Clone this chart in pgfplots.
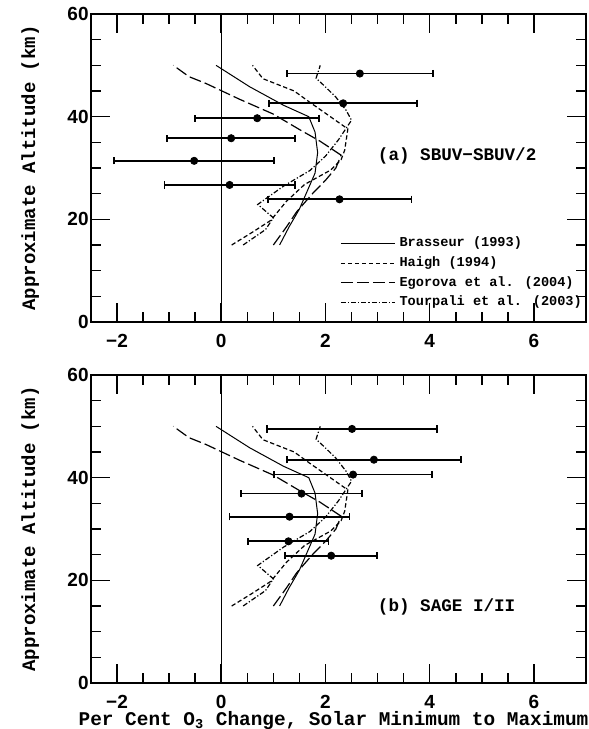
\documentclass[border=0pt]{standalone}
\usepackage{fontspec}
\setmainfont{Liberation Mono}
\newfontfamily\numfont{Liberation Sans}
\usepackage{pgfplots}
\pgfplotsset{compat=1.18}

% model curves (same in both panels)
\pgfplotstableread{
x y
1.12 15
1.30 18.5
1.50 22
1.65 25.5
1.80 29
1.85 33
1.80 37
1.68 40
1.20 42.2
0.55 45.8
-0.10 50
}\brasseur
\pgfplotstableread{
x y
0.20 15
0.60 17.5
0.95 19.8
1.25 23.5
1.60 26.8
2.10 29.6
2.30 31.6
2.37 33.5
2.43 37.6
2.15 39.6
1.70 42.8
1.40 45.0
0.80 47.4
0.60 50
}\haigh
\pgfplotstableread{
x y
1.00 15
1.25 18.5
1.45 21.5
1.75 25
2.00 27.6
2.20 30
2.30 32.5
1.90 35.2
1.50 37.5
1.00 40.5
0.35 43.4
-0.30 46.5
-0.62 47.8
-0.92 50
}\egorova
\pgfplotstableread{
x y
0.42 15
0.85 18.0
1.00 20.3
0.70 22.9
1.20 26.5
1.70 29.5
2.00 32.3
2.25 35.5
2.50 39.3
2.40 41.2
2.20 43.8
2.00 45.8
1.82 47.5
1.90 50
}\tourpali

\pgfplotsset{
  panel/.style={
    scale only axis, width=247.5pt, height=154pt,
    xmin=-2.5, xmax=7, ymin=0, ymax=60,
    xtick={-2,0,2,4,6}, xticklabels={−2,0,2,4,6},
    ytick={0,20,40,60}, minor x tick num=3, minor y tick num=3,
    tick align=inside, major tick length=9.5pt, minor tick length=5pt,
    axis line style={line width=1pt},
    every tick/.style={black, line width=0.8pt},
    /pgf/number format/assume math mode=true,
    tick label style={font=\numfont\bfseries\fontsize{9.5}{10}\selectfont, inner sep=1pt},
    xticklabel style={yshift=-5pt},
    yticklabel style={xshift=0pt},
    label style={font=\bfseries\fontsize{9.5}{11}\selectfont},
    ylabel={Approximate Altitude (km)},
    ylabel style={at={(axis description cs:-0.123,0.5)}, anchor=center},
    legend image code/.code={\draw[#1] (0pt,0pt) -- (27pt,0pt);},
  },
  brass/.style={black, line width=0.5pt},
  haig/.style={black, line width=0.6pt, dash pattern=on 2.2pt off 1.3pt},
  egor/.style={black, line width=0.6pt, dash pattern=on 6pt off 2pt},
  tour/.style={black, line width=0.6pt, dash pattern=on 2.5pt off 1pt on 0.6pt off 1pt},
  errs/.style={only marks, black, mark=*, mark size=1.8pt,
    error bars/.cd, x dir=both, x explicit,
    error bar style={line width=0.9pt},
    error mark options={rotate=90, mark size=1.8pt, line width=0.9pt}},
}

\begin{document}
\begin{tikzpicture}
\path[use as bounding box] (-45.5pt,-23pt) rectangle (249pt,341.5pt);
\begin{axis}[panel, name=top, at={(0,180.5pt)},
  legend style={at={(0.503,0.29)}, anchor=north west, draw=none, fill=none,
    font=\bfseries\fontsize{6.8}{8}\selectfont, row sep=-0.6pt, inner sep=0pt,
    cells={anchor=west}},
]
\addplot[black, line width=0.6pt, forget plot] coordinates {(0,0) (0,60)};
\addplot[brass] table {\brasseur}; \addlegendentry{Brasseur (1993)}
\addplot[haig] table {\haigh}; \addlegendentry{Haigh (1994)}
\addplot[egor] table {\egorova}; \addlegendentry{Egorova et al. (2004)}
\addplot[tour] table {\tourpali}; \addlegendentry{Tourpali et al. (2003)}
\addplot[forget plot, errs] coordinates {
  (2.66,48.4) +- (1.40,0)
  (2.34,42.6) +- (1.42,0)
  (0.69,39.7) +- (1.19,0)
  (0.19,35.8) +- (1.23,0)
  (-0.52,31.4) +- (1.54,0)
  (0.16,26.7) +- (1.25,0)
  (2.27,23.9) +- (1.38,0)
};
\node[anchor=west, inner sep=0pt, font=\bfseries\fontsize{8.8}{11}\selectfont]
  at (axis cs:3.0,32.3) {(a) SBUV−SBUV/2};
\end{axis}

\begin{axis}[panel, name=bot, at={(0,0)},
  xlabel={Per Cent O\textsubscript{3} Change, Solar Minimum to Maximum},
  xlabel style={at={(axis description cs:0.49,-0.122)}, anchor=center,
    inner sep=0pt, font=\bfseries\fontsize{9.7}{11}\selectfont},
]
\addplot[black, line width=0.6pt] coordinates {(0,0) (0,60)};
\addplot[brass] table {\brasseur};
\addplot[haig] table {\haigh};
\addplot[egor] table {\egorova};
\addplot[tour] table {\tourpali};
\addplot[errs] coordinates {
  (2.51,49.5) +- (1.63,0)
  (2.93,43.5) +- (1.67,0)
  (2.53,40.6) +- (1.51,0)
  (1.54,36.9) +- (1.16,0)
  (1.31,32.4) +- (1.15,0)
  (1.29,27.6) +- (0.77,0)
  (2.11,24.8) +- (0.88,0)
};
\node[anchor=west, inner sep=0pt, font=\bfseries\fontsize{8.8}{11}\selectfont]
  at (axis cs:3.0,14.8) {(b) SAGE I/II};
\end{axis}
\end{tikzpicture}
\end{document}
